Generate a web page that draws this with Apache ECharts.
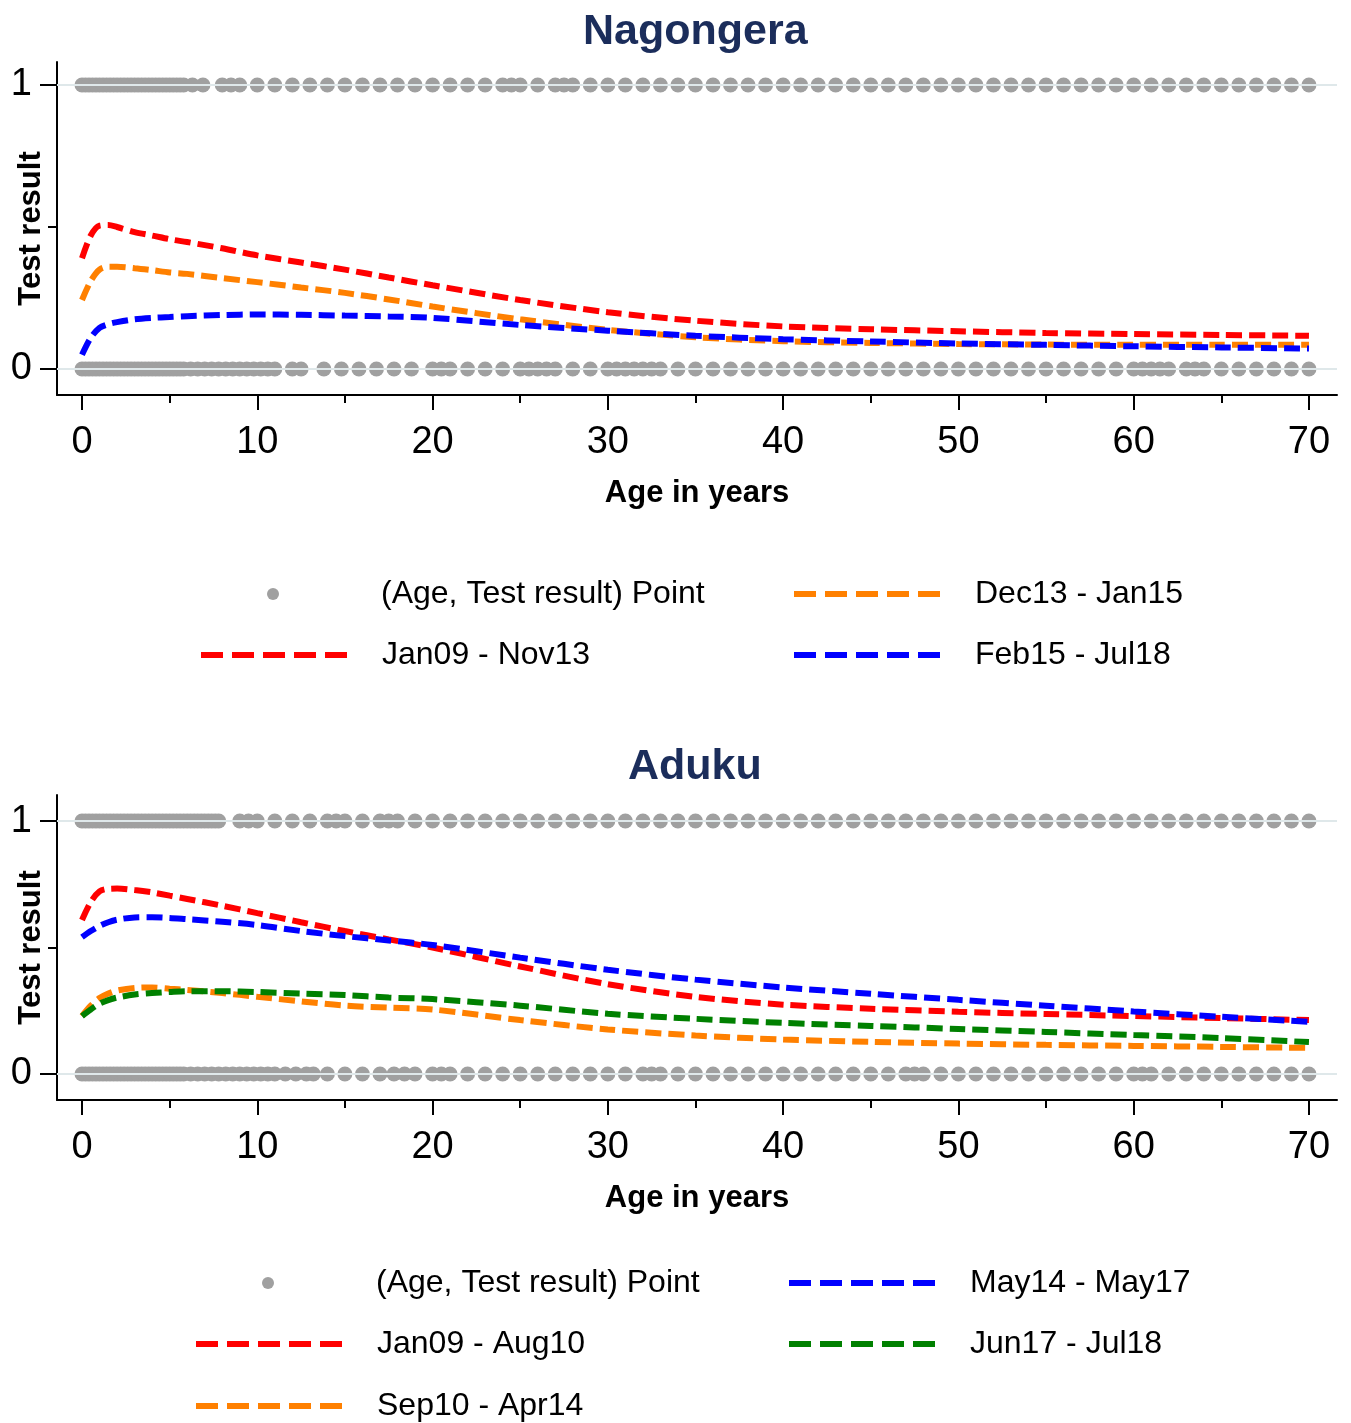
<!DOCTYPE html>
<html>
<head>
<meta charset="utf-8">
<script src="https://cdn.jsdelivr.net/npm/echarts@6/dist/echarts.min.js"></script>
<style>
html,body{margin:0;padding:0;background:#fff;}
#chart{width:1351px;height:1423px;}
</style>
</head>
<body>
<div id="chart"></div>
<script>
// ---------- DATA ----------
const xTickLabels = [0, 10, 20, 30, 40, 50, 60, 70];
const xMinorTicks = [5, 15, 25, 35, 45, 55, 65];
const yTickLabels = [0, 1];
const yMinorTicks = [0.5];

// Ages at which fitted curves were read
const curveAges = [0,0.5,1,1.5,2,3,4,5,6,8,10,12.5,15,17.5,20,25,30,35,40,45,50,55,60,65,70];

// Nagongera curves
const nagJan09Nov13 = [0.39,0.47,0.505,0.507,0.5,0.482,0.47,0.457,0.447,0.425,0.40,0.375,0.35,0.322,0.295,0.243,0.2,0.17,0.15,0.14,0.133,0.127,0.123,0.12,0.117];
const nagDec13Jan15 = [0.243,0.31,0.35,0.36,0.36,0.355,0.348,0.34,0.335,0.32,0.306,0.287,0.268,0.245,0.22,0.175,0.138,0.112,0.098,0.092,0.088,0.086,0.085,0.085,0.085];
const nagFeb15Jul18 = [0.05,0.11,0.145,0.158,0.165,0.175,0.18,0.183,0.186,0.19,0.192,0.191,0.188,0.185,0.18,0.155,0.135,0.117,0.105,0.097,0.09,0.085,0.08,0.076,0.072];

// Aduku curves
const aduJan09Aug10 = [0.609,0.68,0.722,0.732,0.733,0.727,0.718,0.705,0.692,0.665,0.636,0.6,0.565,0.532,0.5,0.425,0.355,0.305,0.274,0.258,0.246,0.237,0.229,0.221,0.213];
const aduSep10Apr14 = [0.229,0.27,0.3,0.318,0.33,0.34,0.342,0.337,0.332,0.32,0.305,0.287,0.27,0.262,0.255,0.213,0.176,0.152,0.136,0.127,0.12,0.115,0.111,0.107,0.103];
const aduMay14May17 = [0.541,0.565,0.585,0.6,0.61,0.619,0.62,0.617,0.612,0.602,0.589,0.565,0.545,0.528,0.51,0.46,0.412,0.373,0.342,0.317,0.293,0.27,0.247,0.226,0.206];
const aduJun17Jul18 = [0.229,0.255,0.278,0.292,0.302,0.314,0.32,0.324,0.327,0.327,0.324,0.318,0.312,0.302,0.296,0.27,0.238,0.218,0.202,0.19,0.178,0.166,0.154,0.142,0.126];

// Observed points (ages) with test result 1 and 0
const nagPosAges = [0,0.2,0.4,0.6,0.8,1,1.2,1.4,1.6,1.8,2,2.2,2.4,2.6,2.8,3,3.2,3.4,3.6,3.8,4,4.2,4.4,4.6,4.8,5,5.2,5.4,5.6,5.8,6.3,6.9,8,8.5,9,10,11,12,13,14,15,16,17,18,19,20,21,22,23,24,24.5,25,26,27,27.5,28,29,30,31,32,33,34,35,36,37,38,39,40,41,42,43,44,45,46,47,48,49,50,51,52,53,54,55,56,57,58,59,60,61,62,63,64,65,66,67,68,69,70];
const nagNegAges = [0,0.2,0.4,0.6,0.8,1,1.2,1.4,1.6,1.8,2,2.2,2.4,2.6,2.8,3,3.2,3.4,3.6,3.8,4,4.2,4.4,4.6,4.8,5,5.2,5.4,5.6,5.8,6.2,6.6,7,7.4,7.8,8.2,8.6,9,9.4,9.8,10.2,10.6,11,12,12.5,13.8,14.8,15.8,16.8,17.8,18.8,20,20.5,21,22,23,24,25,25.5,26,26.5,27,28,29,30,30.5,31,31.5,32,32.5,33,34,35,36,37,38,39,40,41,42,43,44,45,46,47,48,49,50,51,52,53,54,55,56,57,58,59,60,60.5,61,61.5,62,63,63.5,64,65,66,67,68,69,70];
const aduPosAges = [0,0.2,0.4,0.6,0.8,1,1.2,1.4,1.6,1.8,2,2.2,2.4,2.6,2.8,3,3.2,3.4,3.6,3.8,4,4.2,4.4,4.6,4.8,5,5.2,5.4,5.6,5.8,6,6.2,6.4,6.6,6.8,7,7.2,7.4,7.6,7.8,9,9.5,10,11,12,13,14,14.5,15,16,17,17.5,18,19,20,21,22,23,24,25,26,27,28,29,30,31,32,33,34,35,36,37,38,39,40,41,42,43,44,45,46,47,48,49,50,51,52,53,54,55,56,57,58,59,60,61,62,63,64,65,66,67,68,69,70];
const aduNegAges = [0,0.2,0.4,0.6,0.8,1,1.2,1.4,1.6,1.8,2,2.2,2.4,2.6,2.8,3,3.2,3.4,3.6,3.8,4,4.2,4.4,4.6,4.8,5,5.2,5.4,5.6,5.8,6.2,6.6,7,7.4,7.8,8.2,8.6,9,9.4,9.8,10.2,10.6,11,11.6,12.2,12.8,13.2,14,15,16,17,17.8,18.4,19,20,20.5,21,22,23,24,25,26,27,28,29,30,31,32,32.5,33,34,35,36,37,38,39,40,41,42,43,44,45,46,47,47.5,48,49,50,51,52,53,54,55,56,57,58,59,60,60.5,61,62,63,64,65,66,67,68,69,70];

const panelTitles = ['Nagongera', 'Aduku'];
const pointName = '(Age, Test result) Point';

// ---------- STYLE ----------
const FONT = 'Liberation Sans, Arial, sans-serif';
const GRAY = '#a0a0a0';
const GRID_COLOR = '#dfe8ea';
const TITLE_COLOR = '#1b2d5b';
const RED = '#ff0000', ORANGE = '#ff8000', BLUE = '#0000ff', GREEN = '#008000';
const DASH = [16, 7];

function pair(xs, ys) { return xs.map((x, i) => [x, ys[i]]); }
function points(pos, neg) { return pos.map(a => [a, 1]).concat(neg.map(a => [a, 0])); }

const X_MIN = -1.426, X_MAX = 71.6;
const grids = [
  {left: 57, top: 62, width: 1280, height: 333, containLabel: false, outerBoundsMode: 'none'},
  {left: 57, top: 795, width: 1280, height: 305, containLabel: false, outerBoundsMode: 'none'}
];
const yRanges = [[-0.0915, 1.081], [-0.103, 1.103]];

const xAxes = [], yAxes = [];
[0, 1].forEach(g => {
  xAxes.push({
    type: 'value', gridIndex: g, min: X_MIN, max: X_MAX, position: 'bottom',
    name: 'Age in years', nameLocation: 'middle', nameGap: 83, nameMoveOverlap: false,
    nameTextStyle: {fontFamily: FONT, fontSize: 31, fontWeight: 'bold', color: '#000'},
    axisLine: {show: true, onZero: false, lineStyle: {color: '#000', width: 2}},
    axisTick: {show: true, customValues: xTickLabels, length: 15, lineStyle: {color: '#000', width: 2}},
    axisLabel: {show: true, customValues: xTickLabels, margin: 29, fontFamily: FONT, fontSize: 38, color: '#000'},
    splitLine: {show: false}
  });
  xAxes.push({
    type: 'value', gridIndex: g, min: X_MIN, max: X_MAX, position: 'bottom',
    axisLine: {show: false, onZero: false},
    axisTick: {show: true, customValues: xMinorTicks, length: 8, lineStyle: {color: '#000', width: 2}},
    axisLabel: {show: false}, splitLine: {show: false}
  });
  yAxes.push({
    type: 'value', gridIndex: g, min: yRanges[g][0], max: yRanges[g][1], position: 'left',
    name: 'Test result', nameLocation: 'middle', nameGap: 10, nameRotate: 90, nameMoveOverlap: false,
    nameTextStyle: {fontFamily: FONT, fontSize: 31, fontWeight: 'bold', color: '#000'},
    axisLine: {show: true, onZero: false, lineStyle: {color: '#000', width: 2}},
    axisTick: {show: true, customValues: yTickLabels, length: 17, lineStyle: {color: '#000', width: 2}},
    axisLabel: {show: true, customValues: yTickLabels, margin: 25, fontFamily: FONT, fontSize: 38, color: '#000'},
    splitLine: {show: false}
  });
  yAxes.push({
    type: 'value', gridIndex: g, min: yRanges[g][0], max: yRanges[g][1], position: 'left',
    axisLine: {show: false, onZero: false},
    axisTick: {show: true, customValues: yMinorTicks, length: 9, lineStyle: {color: '#000', width: 2}},
    axisLabel: {show: false}, splitLine: {show: false}
  });
});

function scatterSeries(g, data) {
  return {
    name: pointName, type: 'scatter', xAxisIndex: g * 2, yAxisIndex: g * 2,
    data: data, symbol: 'circle', symbolSize: 15,
    itemStyle: {color: GRAY, opacity: 1}, z: 2,
    markLine: {
      silent: true, symbol: 'none', label: {show: false}, animation: false,
      lineStyle: {color: GRID_COLOR, width: 2, type: 'solid'},
      data: [{yAxis: 0}, {yAxis: 1}]
    }
  };
}
function lineSeries(g, name, color, ys) {
  return {
    name: name, type: 'line', xAxisIndex: g * 2, yAxisIndex: g * 2,
    data: pair(curveAges, ys), smooth: 0.3,
    symbol: 'none', showSymbol: false, z: 3,
    itemStyle: {color: color},
    lineStyle: {color: color, width: 6, type: DASH}
  };
}

const series = [
  scatterSeries(0, points(nagPosAges, nagNegAges)),
  lineSeries(0, 'Jan09 - Nov13', RED, nagJan09Nov13),
  lineSeries(0, 'Dec13 - Jan15', ORANGE, nagDec13Jan15),
  lineSeries(0, 'Feb15 - Jul18', BLUE, nagFeb15Jul18),
  scatterSeries(1, points(aduPosAges, aduNegAges)),
  lineSeries(1, 'Jan09 - Aug10', RED, aduJan09Aug10),
  lineSeries(1, 'Sep10 - Apr14', ORANGE, aduSep10Apr14),
  lineSeries(1, 'May14 - May17', BLUE, aduMay14May17),
  lineSeries(1, 'Jun17 - Jul18', GREEN, aduJun17Jul18)
];

function legendLine(name, left, rowY) {
  return {
    show: true, selectedMode: false, orient: 'horizontal',
    left: left, top: rowY - 16, padding: 0,
    itemWidth: 146, itemHeight: 12,
    data: [name],
    itemStyle: {opacity: 0, borderWidth: 0},
    lineStyle: {width: 6, type: [22, 9], cap: 'butt'},
    textStyle: {fontFamily: FONT, fontSize: 32, color: '#000', padding: [0, 0, 0, 30]}
  };
}
function legendPoint(left, rowY) {
  // small gray dot centred in the 146px symbol slot
  return {
    show: true, selectedMode: false, orient: 'horizontal',
    left: left + 67, top: rowY - 16, padding: 0,
    itemWidth: 12, itemHeight: 12,
    data: [{name: pointName, icon: 'circle'}],
    textStyle: {fontFamily: FONT, fontSize: 32, color: '#000', padding: [0, 0, 0, 97]}
  };
}

const legends = [
  legendPoint(200, 594),
  legendLine('Dec13 - Jan15', 791, 594),
  legendLine('Jan09 - Nov13', 198, 655),
  legendLine('Feb15 - Jul18', 791, 655),
  legendPoint(195, 1283),
  legendLine('May14 - May17', 786, 1283),
  legendLine('Jan09 - Aug10', 193, 1344),
  legendLine('Jun17 - Jul18', 786, 1344),
  legendLine('Sep10 - Apr14', 193, 1406)
];

const titles = [
  {text: panelTitles[0], left: 578, top: 6,
   textStyle: {fontFamily: FONT, fontSize: 43, fontWeight: 'bold', color: TITLE_COLOR}},
  {text: panelTitles[1], left: 623, top: 741,
   textStyle: {fontFamily: FONT, fontSize: 43, fontWeight: 'bold', color: TITLE_COLOR}}
];

const chart = echarts.init(document.getElementById('chart'), null, {renderer: 'canvas'});
chart.setOption({
  animation: false,
  backgroundColor: '#fff',
  title: titles,
  legend: legends,
  grid: grids,
  xAxis: xAxes,
  yAxis: yAxes,
  series: series
});
</script>
</body>
</html>
